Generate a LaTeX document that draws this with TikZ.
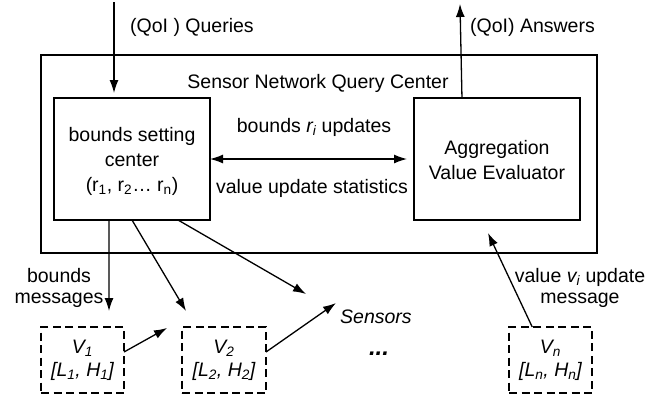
\documentclass[tikz,border=0pt]{standalone}
\usepackage{fontspec}
\setmainfont{Liberation Sans}
\usetikzlibrary{arrows.meta,calc}
\begin{document}
\begin{tikzpicture}[x=1pt,y=-1pt,
  font=\fontsize{19.5}{25}\selectfont,
  box/.style={draw, line width=1.5pt, inner sep=0pt, outer sep=0pt},
  dbox/.style={draw, line width=2.8pt, dash pattern=on 8pt off 4.5pt, inner sep=0pt, outer sep=0pt, align=center, font=\fontsize{19.5}{23}\selectfont\itshape},
  arr/.style={-{Latex[length=13pt,width=9pt]}, line width=1.3pt},
  dblarr/.style={{Latex[length=13pt,width=9pt]}-{Latex[length=13pt,width=9pt]}, line width=1.3pt},
  lbl/.style={inner sep=0pt, align=center}]
\useasboundingbox (0,0) rectangle (668,400);

% boxes
\node[box, minimum width=556pt, minimum height=198pt] (outer) at (319,154) {};
\node[box, minimum width=156pt, minimum height=122pt] (lb) at (132,159) {};
\node[box, minimum width=166pt, minimum height=122pt] (rb) at (497,159) {};
\node[dbox, minimum width=83pt, minimum height=66pt] (v1) at (82.5,360) {V\textsubscript{1}\\{}[L\textsubscript{1}, H\textsubscript{1}]};
\node[dbox, minimum width=84pt, minimum height=66pt] (v2) at (224,360) {V\textsubscript{2}\\{}[L\textsubscript{2}, H\textsubscript{2}]};
\node[dbox, minimum width=83pt, minimum height=66pt] (vn) at (550.5,360) {V\textsubscript{n}\\{}[L\textsubscript{n}, H\textsubscript{n}]};

% box texts
\node[lbl] (lbt) at (132,161) {bounds setting\\center\\(r\textsubscript{1}, r\textsubscript{2}\ldots{} r\textsubscript{n})};
\node[lbl] (rbt) at (497,160) {Aggregation\\Value Evaluator};
\node[lbl] (title) at (318,83) {Sensor Network Query Center};

% labels
\node[lbl, anchor=west] (qlbl) at (130,27) {(QoI ) Queries};
\node[lbl, anchor=west] (albl) at (470,27) {(QoI) Answers};
\node[lbl] (bru) at (314,127) {bounds \textit{r\textsubscript{i}} updates};
\node[lbl] (vus) at (312,188) {value update statistics};
\node[lbl, font=\fontsize{19.5}{21}\selectfont] (bm) at (59,288) {bounds\\messages};
\node[lbl, font=\fontsize{19.5}{21}\selectfont] (vum) at (580,288) {value \textit{v\textsubscript{i}} update\\message};
\node[lbl, anchor=west, font=\fontsize{19.5}{25}\selectfont\itshape] (sens) at (340,317) {Sensors};
\node[lbl, font=\fontsize{24}{25}\selectfont\bfseries\itshape] (dots) at (379,354) {...};

% coordinates
\coordinate (qtop) at (114,2);
\coordinate (atop) at (460,4);
\coordinate (b1) at (109,311);
\coordinate (b2) at (186,311);
\coordinate (b3) at (306,294);
\coordinate (t1) at (167,328);
\coordinate (t2) at (336,303);
\coordinate (t3) at (488,233);

% connectors
\draw[arr, shorten >=5pt] (qtop) -- (qtop |- lb.north);
\draw[arr] ($(rb.north west)!0.289!(rb.north east)$) -- (atop);
\draw[dblarr, shorten >=7pt] (lb.east) -- (rb.west);
\draw[arr] ($(lb.south west)!0.3526!(lb.south east)$) -- (b1);
\draw[arr] (lb.south) -- (b2);
\draw[arr] ($(lb.south west)!0.795!(lb.south east)$) -- (b3);
\draw[arr] ($(v1.east)+(0,-8)$) -- (t1);
\draw[arr] ($(v2.east)+(0,-8)$) -- (t2);
\draw[arr] ($(vn.north west)!0.28!(vn.north east)$) -- (t3);
\end{tikzpicture}
\end{document}
